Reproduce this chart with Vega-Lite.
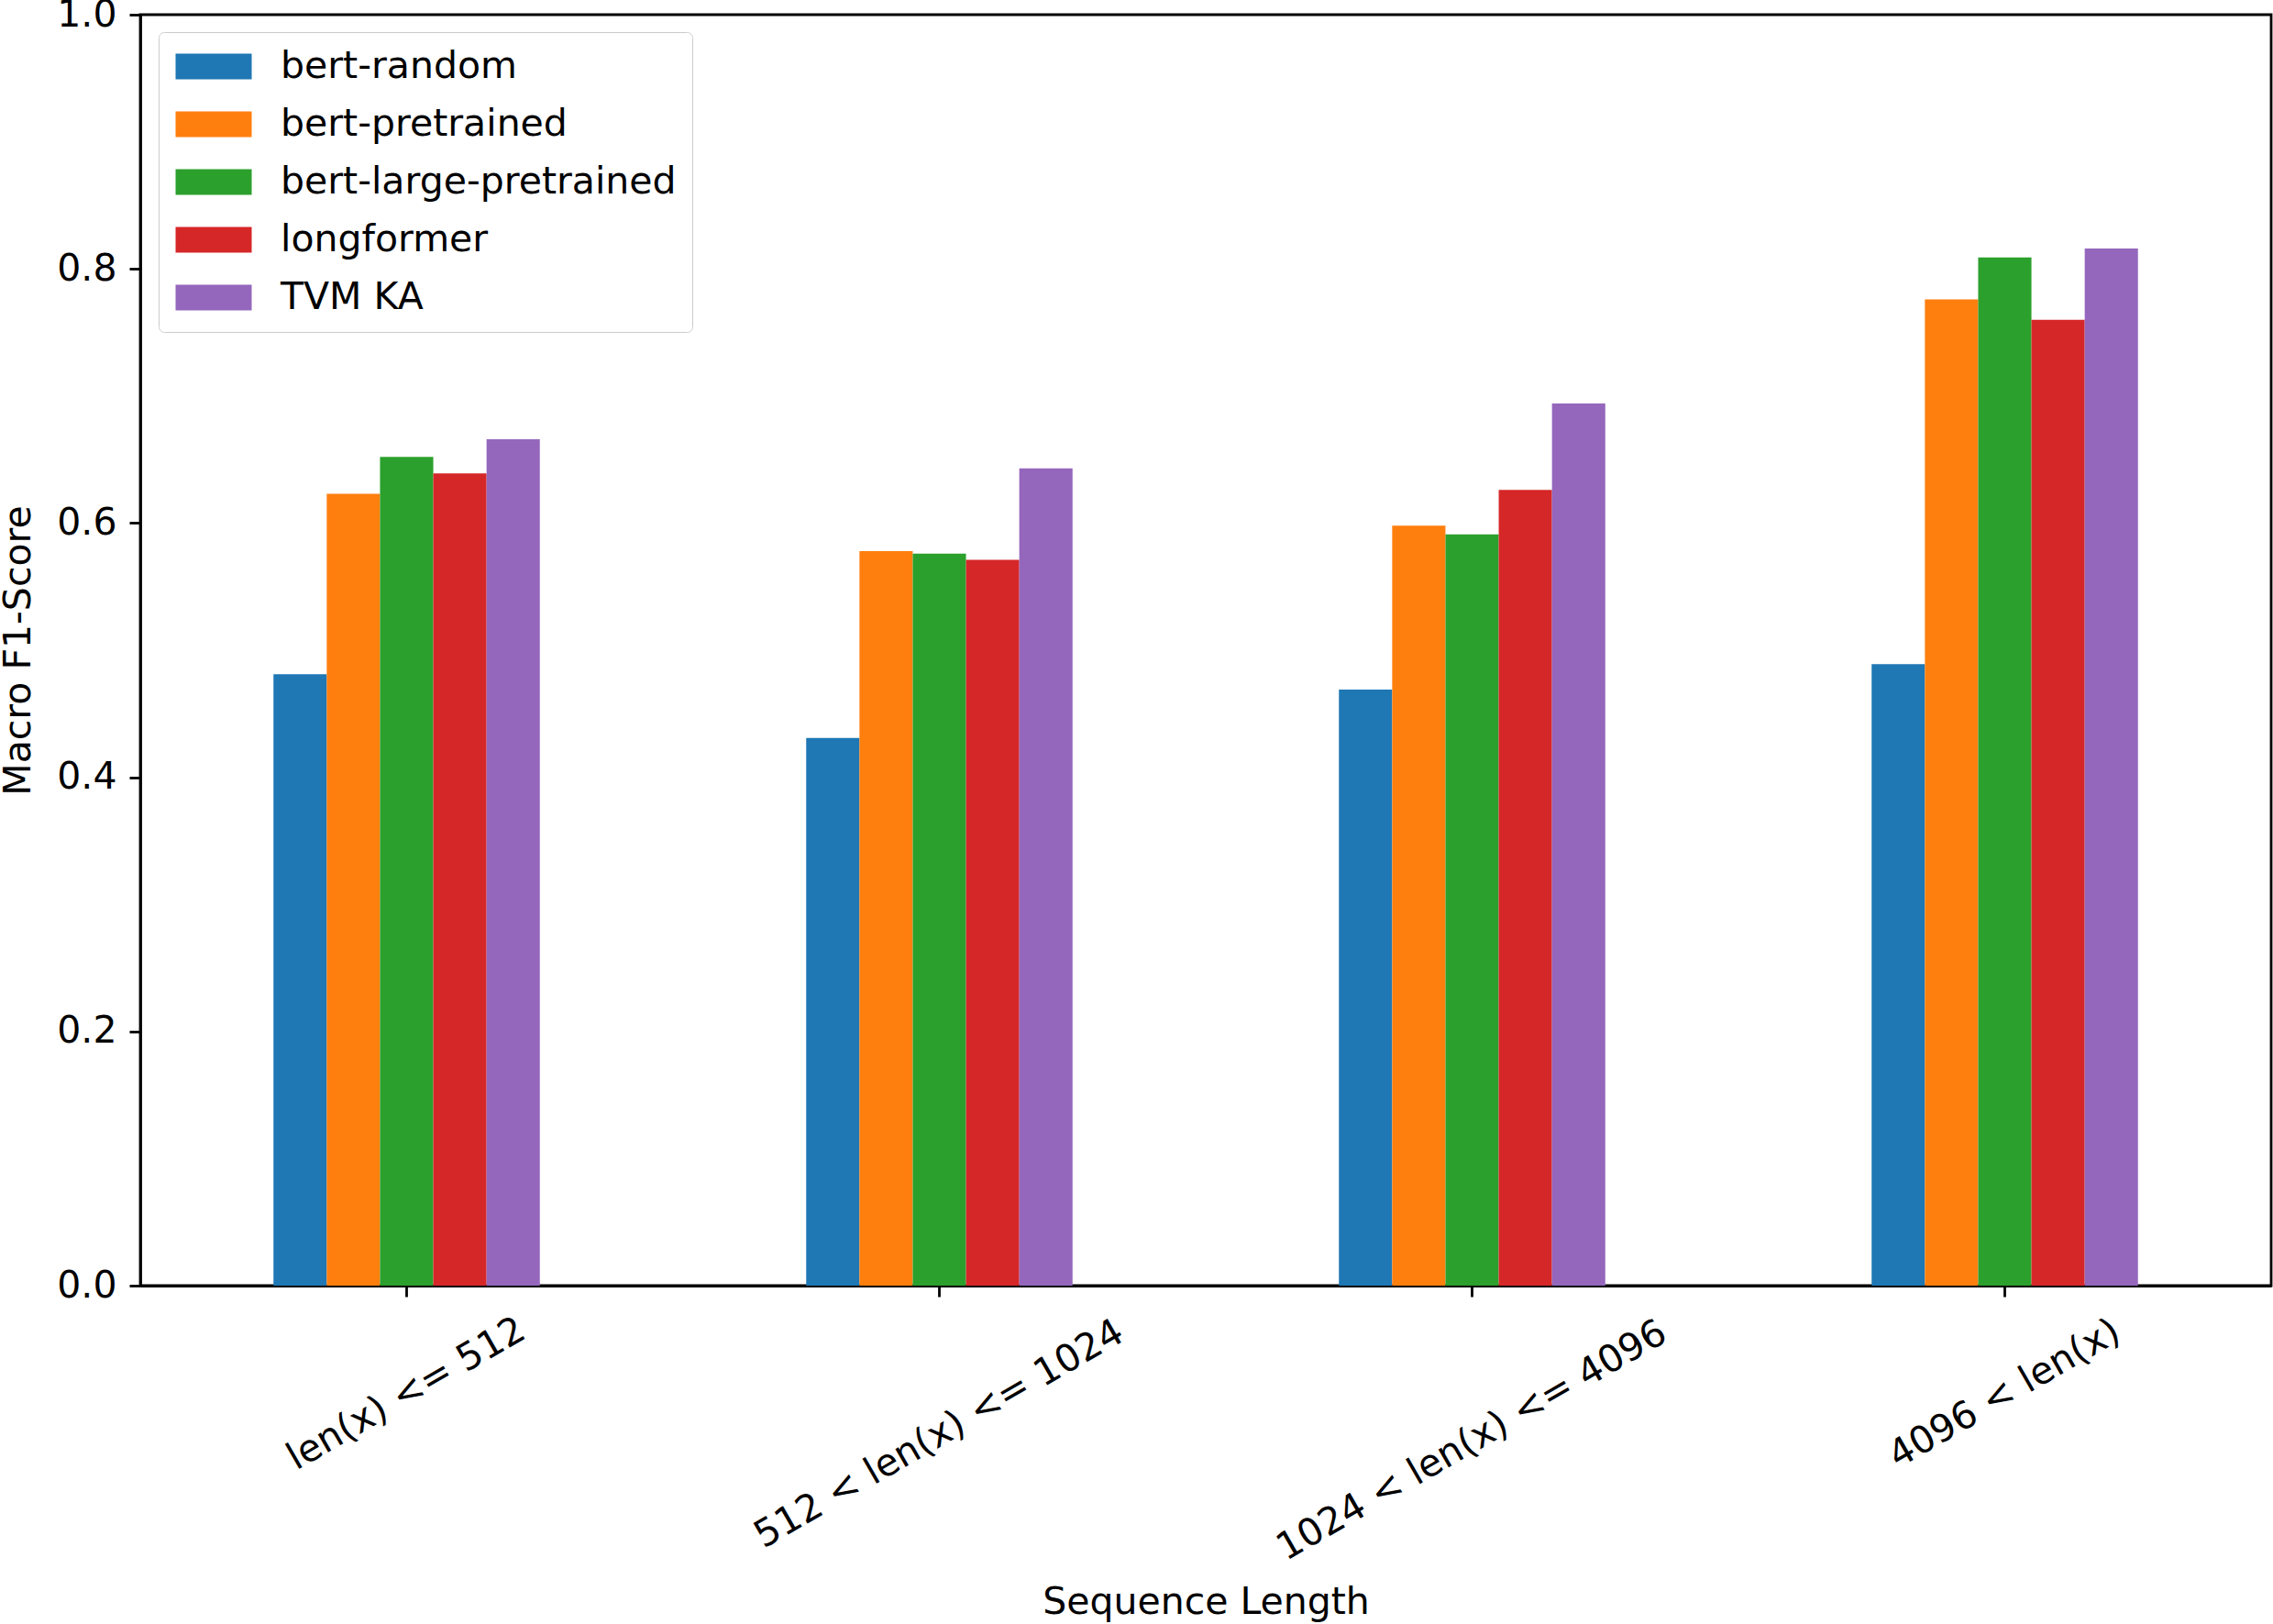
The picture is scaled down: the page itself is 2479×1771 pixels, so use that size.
{
  "$schema": "https://vega.github.io/schema/vega-lite/v6.json",
  "width": 2324,
  "height": 1386,
  "autosize": {"type": "none"},
  "padding": {"left": 153, "top": 16, "right": 2, "bottom": 369},
  "background": "white",
  "config": {
    "font": "DejaVu Sans",
    "view": {"stroke": "black", "strokeWidth": 2.8},
    "axis": {
      "domainColor": "black",
      "domainWidth": 2.8,
      "tickColor": "black",
      "tickWidth": 2.8,
      "tickSize": 12,
      "labelColor": "black",
      "labelFontSize": 41,
      "labelLimit": 0,
      "titleColor": "black",
      "titleFontSize": 41,
      "titleFontWeight": "normal",
      "grid": false
    }
  },
  "data": {
    "values": [
      {"bucket": "len(x) <= 512", "model": "bert-random", "score": 0.481},
      {"bucket": "len(x) <= 512", "model": "bert-pretrained", "score": 0.623},
      {"bucket": "len(x) <= 512", "model": "bert-large-pretrained", "score": 0.652},
      {"bucket": "len(x) <= 512", "model": "longformer", "score": 0.639},
      {"bucket": "len(x) <= 512", "model": "TVM KA", "score": 0.666},
      {"bucket": "512 < len(x) <= 1024", "model": "bert-random", "score": 0.431},
      {"bucket": "512 < len(x) <= 1024", "model": "bert-pretrained", "score": 0.578},
      {"bucket": "512 < len(x) <= 1024", "model": "bert-large-pretrained", "score": 0.576},
      {"bucket": "512 < len(x) <= 1024", "model": "longformer", "score": 0.571},
      {"bucket": "512 < len(x) <= 1024", "model": "TVM KA", "score": 0.643},
      {"bucket": "1024 < len(x) <= 4096", "model": "bert-random", "score": 0.469},
      {"bucket": "1024 < len(x) <= 4096", "model": "bert-pretrained", "score": 0.598},
      {"bucket": "1024 < len(x) <= 4096", "model": "bert-large-pretrained", "score": 0.591},
      {"bucket": "1024 < len(x) <= 4096", "model": "longformer", "score": 0.626},
      {"bucket": "1024 < len(x) <= 4096", "model": "TVM KA", "score": 0.694},
      {"bucket": "4096 < len(x)", "model": "bert-random", "score": 0.489},
      {"bucket": "4096 < len(x)", "model": "bert-pretrained", "score": 0.776},
      {"bucket": "4096 < len(x)", "model": "bert-large-pretrained", "score": 0.809},
      {"bucket": "4096 < len(x)", "model": "longformer", "score": 0.760},
      {"bucket": "4096 < len(x)", "model": "TVM KA", "score": 0.816}
    ]
  },
  "resolve": {"scale": {"x": "shared", "y": "shared"}, "axis": {"x": "independent", "y": "independent"}},
  "layer": [
    {
      "mark": {"type": "bar"},
      "encoding": {
        "x": {
          "field": "bucket",
          "type": "nominal",
          "sort": ["len(x) <= 512", "512 < len(x) <= 1024", "1024 < len(x) <= 4096", "4096 < len(x)"],
          "scale": {"paddingInner": 0.5, "paddingOuter": 0.25},
          "axis": {
            "orient": "bottom",
            "title": "Sequence Length",
            "values": ["len(x) <= 512", "512 < len(x) <= 1024", "1024 < len(x) <= 4096", "4096 < len(x)"],
            "labelExpr": "length(datum.label) < 15 ? datum.label : ''",
            "labelAngle": -30,
            "labelAlign": "center",
            "labelBaseline": "middle",
            "labelPadding": 106,
            "titleY": 357,
            "titleBaseline": "alphabetic"
          }
        },
        "xOffset": {
          "field": "model",
          "type": "nominal",
          "sort": ["bert-random", "bert-pretrained", "bert-large-pretrained", "longformer", "TVM KA"],
          "scale": {"paddingInner": 0, "paddingOuter": 0}
        },
        "y": {
          "field": "score",
          "type": "quantitative",
          "scale": {"domain": [0, 1], "nice": false},
          "axis": {
            "orient": "left",
            "title": "Macro F1-Score",
            "values": [0, 0.2, 0.4, 0.6, 0.8, 1.0],
            "format": ".1f",
            "labelPadding": 14,
            "titlePadding": 20
          }
        },
        "color": {
          "field": "model",
          "type": "nominal",
          "sort": ["bert-random", "bert-pretrained", "bert-large-pretrained", "longformer", "TVM KA"],
          "scale": {
            "domain": ["bert-random", "bert-pretrained", "bert-large-pretrained", "longformer", "TVM KA"],
            "range": ["#1f77b4", "#ff7f0e", "#2ca02c", "#d62728", "#9467bd"]
          },
          "legend": {
            "title": null,
            "orient": "none",
            "legendX": 20,
            "legendY": 19,
            "symbolType": "M-1.357,-1H4.572V1H-1.357Z",
            "symbolSize": 784,
            "symbolStrokeWidth": 0,
            "symbolOpacity": 1,
            "labelFontSize": 41,
            "labelColor": "black",
            "labelLimit": 0,
            "labelOffset": 75,
            "rowPadding": 21,
            "padding": 17,
            "fillColor": "white",
            "strokeColor": "#cccccc",
            "cornerRadius": 6,
            "encode": {
              "legend": {"strokeWidth": {"value": 2.5}}
            }
          }
        }
      }
    },
    {
      "mark": {"type": "bar", "opacity": 0},
      "encoding": {
        "x": {
          "field": "bucket",
          "type": "nominal",
          "sort": ["len(x) <= 512", "512 < len(x) <= 1024", "1024 < len(x) <= 4096", "4096 < len(x)"],
          "axis": {
            "orient": "bottom",
            "title": null,
            "domain": false,
            "ticks": false,
            "values": ["512 < len(x) <= 1024"],
            "labelAngle": -30,
            "labelAlign": "center",
            "labelBaseline": "middle",
            "labelPadding": 162
          }
        },
        "y": {"field": "score", "type": "quantitative", "axis": null}
      }
    },
    {
      "mark": {"type": "bar", "opacity": 0},
      "encoding": {
        "x": {
          "field": "bucket",
          "type": "nominal",
          "sort": ["len(x) <= 512", "512 < len(x) <= 1024", "1024 < len(x) <= 4096", "4096 < len(x)"],
          "axis": {
            "orient": "bottom",
            "title": null,
            "domain": false,
            "ticks": false,
            "values": ["1024 < len(x) <= 4096"],
            "labelAngle": -30,
            "labelAlign": "center",
            "labelBaseline": "middle",
            "labelPadding": 169
          }
        },
        "y": {"field": "score", "type": "quantitative", "axis": null}
      }
    }
  ]
}
